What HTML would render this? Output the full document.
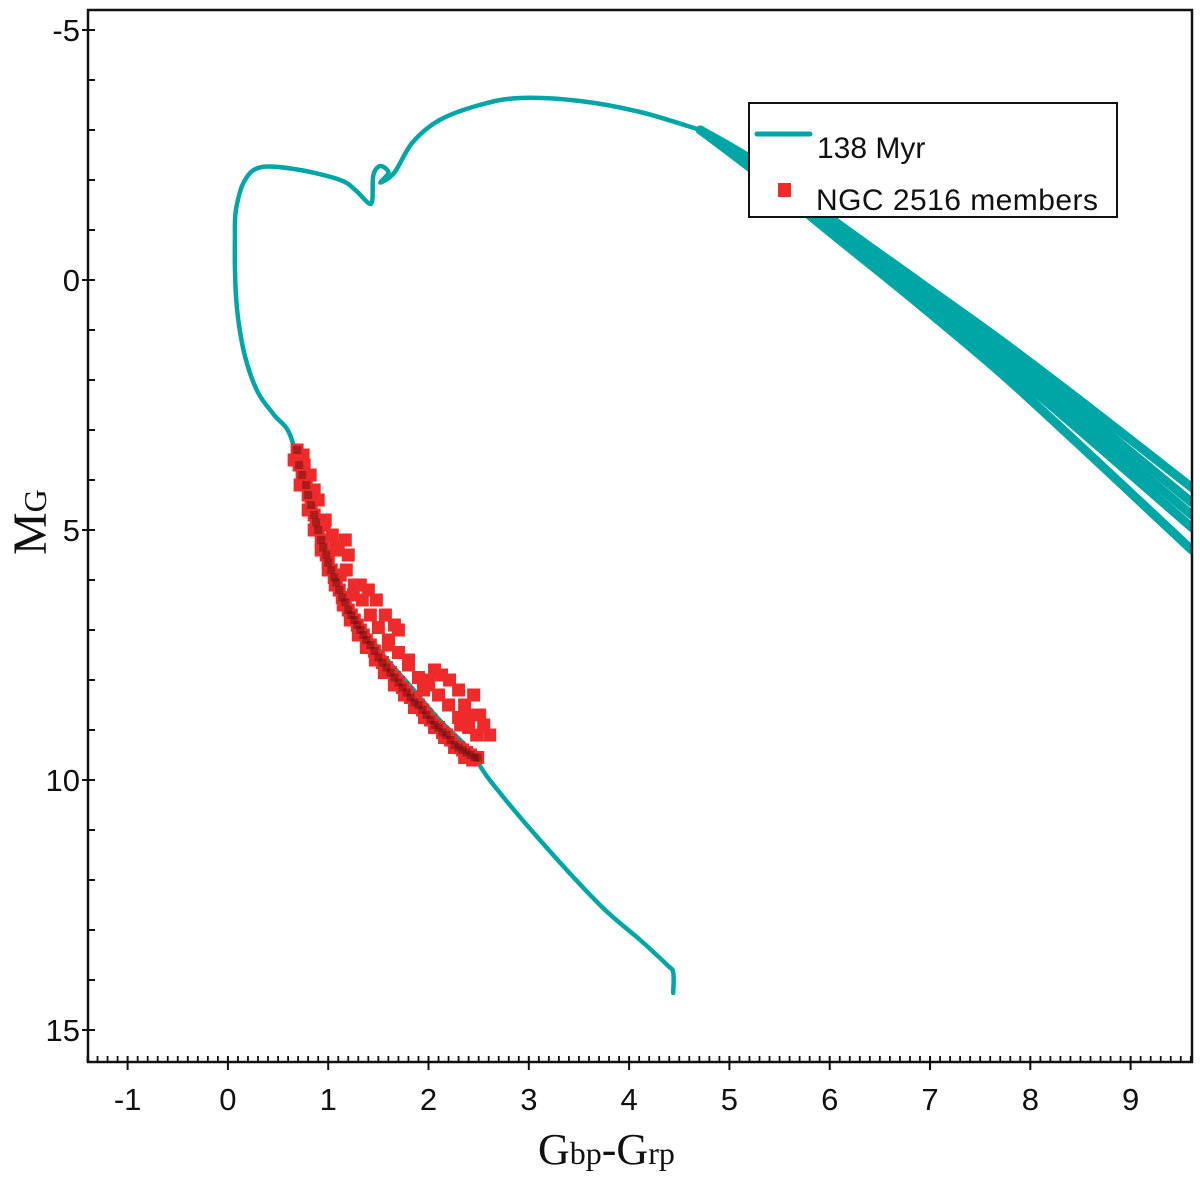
<!DOCTYPE html>
<html><head><meta charset="utf-8"><style>
html,body{margin:0;padding:0;background:#fff;}
svg{display:block;}
text{font-family:"Liberation Sans",sans-serif;}
</style></head><body>
<svg id="chart" width="1200" height="1178" viewBox="0 0 1200 1178" xmlns="http://www.w3.org/2000/svg">
<rect x="0" y="0" width="1200" height="1178" fill="#fff"/>
<g id="plot"></g>
<g id="axes"></g>
<g>
  <rect x="749" y="103" width="368" height="114" fill="#fff" stroke="#111" stroke-width="2"/>
  <line x1="757" y1="134" x2="810" y2="134" stroke="#00a6a6" stroke-width="5" stroke-linecap="round"/>
  <text x="817" y="158" font-size="30" fill="#111">138 Myr</text>
  <rect x="778" y="183" width="13" height="14" fill="#ee2a2a"/>
  <text x="816" y="210" font-size="30" fill="#111" textLength="282">NGC 2516 members</text>
</g>
<text transform="translate(46,555) rotate(-90)" font-size="48" fill="#111" style="font-family:'Liberation Serif',serif">M<tspan font-size="32">G</tspan></text>
<text x="538" y="1164" font-size="44" fill="#111" style="font-family:'Liberation Serif',serif">G<tspan font-size="32">bp</tspan>-G<tspan font-size="32">rp</tspan></text>
</svg>
<script>
// Isochrone main track (color, magnitude)
const isoColor = [4.44,4.44,4.38,4.11,3.71,3.11,2.61,2.41,2.11,1.81,1.51,1.21,0.92,0.76,0.62,0.46,0.30,0.18,0.11,0.08,0.07,0.07,0.08,0.17,0.34,0.72,1.12,1.27,1.40,1.44,1.45,1.52,1.60,1.52,1.66,1.84,2.11,2.51,2.91,3.51,4.11,4.71];
const isoMag   = [14.26,13.85,13.7,13.2,12.5,11.2,10.0,9.4,8.8,8.1,7.4,6.5,5.3,4.15,3.1,2.7,2.25,1.6,0.9,0.3,-0.3,-0.8,-1.4,-2.0,-2.26,-2.2,-2.0,-1.8,-1.54,-1.6,-2.1,-2.28,-2.15,-1.95,-2.15,-2.75,-3.2,-3.5,-3.64,-3.58,-3.36,-3.0];
// Giant-branch bundle
const branchColor = [4.71,5.3,6.1,6.9,7.7,8.49,9.61];
const branch1 = [-3.0,-2.3,-1.1,0.05,1.2,2.4,4.15];
const branch2 = [-3.0,-2.25,-1.0,0.15,1.35,2.6,4.45];
const branch3 = [-3.0,-2.2,-0.95,0.25,1.5,2.8,4.7];
const branch4 = [-3.0,-2.15,-0.85,0.35,1.65,3.0,4.95];
const branch5 = [-3.0,-2.1,-0.8,0.5,1.85,3.3,5.4];
// NGC 2516 members
const memberColor = [0.69,0.71,0.74,0.78,0.80,0.83,0.86,0.88,0.90,0.93,0.95,0.98,1.00,1.03,1.06,1.08,1.11,1.14,1.17,1.20,1.23,1.26,1.29,1.32,1.35,1.38,1.42,1.46,1.50,1.54,1.58,1.62,1.66,1.70,1.74,1.78,1.82,1.86,1.90,1.94,1.98,2.02,2.06,2.10,2.14,2.18,2.22,2.26,2.30,2.34,2.38,2.42,2.46,2.49,
  0.75,0.82,0.90,0.97,1.04,1.10,1.18,1.26,1.34,1.42,1.50,1.60,1.70,1.80,1.90,2.00,2.10,2.20,2.30,2.40,2.48,
  0.66,0.72,0.80,0.86,0.93,1.00,1.07,1.15,1.22,1.30,1.38,1.47,1.56,1.66,1.76,1.86,1.96,2.06,2.16,2.26,2.36,2.44,
  0.76,0.86,0.96,1.08,1.17,1.20,1.32,1.40,1.48,1.57,1.66,1.70,1.12,1.25,1.80,2.06,2.13,2.21,2.30,2.36,2.40,2.51,2.61,2.55,2.45,2.32,2.00,1.95,1.60];
const memberMag = [3.4,3.7,3.9,4.1,4.3,4.5,4.7,4.85,5.0,5.2,5.35,5.5,5.65,5.8,5.95,6.05,6.2,6.35,6.45,6.6,6.7,6.8,6.9,7.0,7.1,7.2,7.3,7.42,7.55,7.65,7.75,7.85,7.95,8.05,8.15,8.25,8.35,8.45,8.5,8.6,8.7,8.8,8.9,8.95,9.05,9.1,9.2,9.3,9.35,9.4,9.45,9.5,9.55,9.55,
  3.5,3.9,4.4,4.8,5.1,5.4,5.8,6.1,6.4,6.7,6.95,7.2,7.45,7.7,7.95,8.1,8.3,8.5,8.75,8.95,9.1,
  3.6,4.1,4.6,5.0,5.4,5.8,6.1,6.5,6.8,7.1,7.35,7.6,7.85,8.1,8.3,8.55,8.75,8.95,9.15,9.35,9.55,9.6,
  3.7,4.2,4.9,5.3,5.2,5.5,6.1,6.2,6.4,6.7,6.9,7.0,5.9,6.3,7.6,7.8,7.9,8.0,8.2,8.5,8.7,8.7,9.1,8.9,8.3,8.9,8.0,8.2,7.3];
const coreCount = 54;
const xTicks = [-1,0,1,2,3,4,5,6,7,8,9];
const yTicks = [-5,0,5,10,15];

const X0=88, X1=1192, Y0=10, Y1=1062;
const xMin=-1.395, xMax=9.612, yMin=-5.4, yMax=15.64;
function sx(c){return X0+(c-xMin)/(xMax-xMin)*(X1-X0);}
function sy(m){return Y0+(m-yMin)/(yMax-yMin)*(Y1-Y0);}
const NS='http://www.w3.org/2000/svg';
const plot=document.getElementById('plot'), axes=document.getElementById('axes');
function mk(tag,attrs,parent){const e=document.createElementNS(NS,tag);for(const k in attrs)e.setAttribute(k,attrs[k]);parent.appendChild(e);return e;}

const defs=mk('defs',{},plot);
const cp=mk('clipPath',{id:'clip'},defs);
mk('rect',{x:X0,y:Y0,width:X1-X0,height:Y1-Y0},cp);
const g=mk('g',{'clip-path':'url(#clip)'},plot);

function pathFrom(cs,ms){
  const p=cs.map((c,i)=>[sx(c),sy(ms[i])]);
  let d='M'+p[0][0].toFixed(1)+' '+p[0][1].toFixed(1);
  for(let i=0;i<p.length-1;i++){
    const p0=p[Math.max(0,i-1)],p1=p[i],p2=p[i+1],p3=p[Math.min(p.length-1,i+2)];
    const c1x=p1[0]+(p2[0]-p0[0])/6,c1y=p1[1]+(p2[1]-p0[1])/6;
    const c2x=p2[0]-(p3[0]-p1[0])/6,c2y=p2[1]-(p3[1]-p1[1])/6;
    d+=' C'+c1x.toFixed(1)+' '+c1y.toFixed(1)+' '+c2x.toFixed(1)+' '+c2y.toFixed(1)+' '+p2[0].toFixed(1)+' '+p2[1].toFixed(1);
  }
  return d;
}
const branches=[branch1,branch2,branch3,branch4,branch5];
branches.forEach((b,i)=>{
  const p=mk('path',{d:pathFrom(branchColor,b),fill:'none',stroke:'#00a6a6','stroke-width':9,'stroke-linejoin':'round','stroke-linecap':'round'},g);
  
  
});
const iso=mk('path',{d:pathFrom(isoColor,isoMag),fill:'none',stroke:'#00a6a6','stroke-width':4.5,'stroke-linejoin':'round','stroke-linecap':'round'},g);



memberColor.forEach((c,i)=>{
  const r=mk('rect',{x:sx(c)-6.5,y:sy(memberMag[i])-6.5,width:13,height:13,fill:'#ee2a2a'},g);
  
  
});
for(let i=0;i<coreCount;i++){
  const c=memberColor[i],m=memberMag[i];
  const r=mk('rect',{x:sx(c)-4,y:sy(m)-4,width:8,height:8,fill:'#5a0c0c',opacity:0.45},g);
  
  
}

const fr=mk('rect',{x:X0,y:Y0,width:X1-X0,height:Y1-Y0,fill:'none',stroke:'#111','stroke-width':2.5},axes);


for(let m=-5;m<=15;m++){
  const y=sy(m), major=yTicks.includes(m);
  mk('line',{x1:major?X0-6:X0,x2:X0+7,y1:y,y2:y,stroke:'#111','stroke-width':2},axes);
}
yTicks.forEach(v=>{
  const t=mk('text',{x:X0-8,y:sy(v)+11,'font-size':31,'text-anchor':'end',fill:'#111'},axes);
  t.textContent=String(v);
  
  
});
for(let k=-14;k<=96;k++){
  const c=k/10, x=sx(c), major=(k%10===0);
  if(major) mk('line',{x1:x,x2:x,y1:Y1+8,y2:Y1-6,stroke:'#111','stroke-width':2},axes);
  else mk('line',{x1:x,x2:x,y1:Y1,y2:Y1-6,stroke:'#111','stroke-width':1.8},axes);
}
xTicks.forEach(v=>{
  const t=mk('text',{x:sx(v),y:1110,'font-size':31,'text-anchor':'middle',fill:'#111'},axes);
  t.textContent=String(v);
  
  
});
</script>
</body></html>
